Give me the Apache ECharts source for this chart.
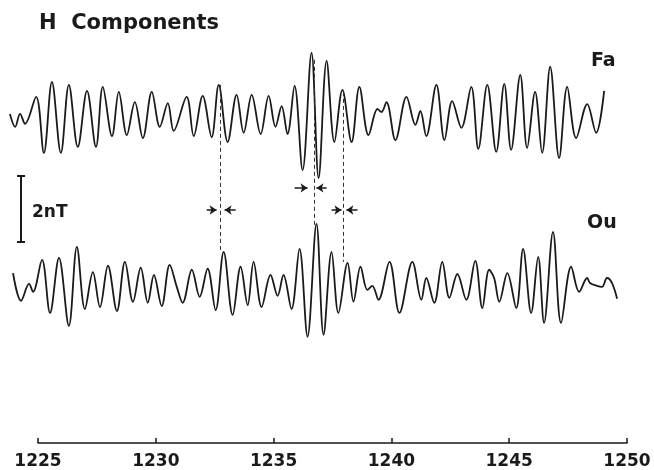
<!DOCTYPE html>
<html>
<head>
<meta charset="utf-8">
<script src="https://cdn.jsdelivr.net/npm/echarts@6/dist/echarts.min.js"></script>
<style>html,body{margin:0;background:#fff}#main{width:654px;height:470px}</style>
</head>
<body>
<div id="main"></div>
<script>
// time axis, minutes past 12h
var ticks = [1225, 1230, 1235, 1240, 1245, 1250]

// Fa station H component, nT around its own baseline
var faTime = [1223.81,1224.03,1224.24,1224.45,1224.92,1225.25,1225.59,1225.97,1226.31,1226.69,
  1227.08,1227.46,1227.75,1228.14,1228.43,1228.77,1229.11,1229.45,1229.83,1230.17,
  1230.51,1230.76,1231.31,1231.61,1231.99,1232.37,1232.67,1233.05,1233.43,1233.73,
  1234.07,1234.45,1234.79,1235.08,1235.34,1235.59,1235.89,1236.23,1236.61,1236.91,
  1237.25,1237.58,1237.92,1238.31,1238.64,1239.03,1239.41,1239.58,1239.79,1240.17,
  1240.64,1241.02,1241.23,1241.48,1241.91,1242.25,1242.58,1242.97,1243.39,1243.69,
  1244.07,1244.45,1244.79,1245.08,1245.47,1245.76,1246.10,1246.40,1246.74,1247.12,
  1247.46,1247.84,1248.31,1248.69,1249.03]
var faH = [0.09,-0.30,0.09,-0.21,0.61,-1.09,1.06,-1.09,0.97,-0.91,
  0.79,-0.91,0.91,-0.58,0.76,-0.55,0.45,-0.64,0.76,-0.30,
  0.42,-0.42,0.61,-0.58,0.64,-0.61,0.97,-0.76,0.67,-0.48,
  0.67,-0.52,0.64,-0.30,0.33,-0.52,0.94,-1.61,1.94,-1.85,
  1.70,-0.76,0.82,-0.76,0.91,-0.55,0.24,0.15,0.45,-0.70,
  0.61,-0.24,0.18,-0.58,0.97,-0.70,0.48,-0.33,0.91,-0.97,
  0.97,-1.06,1.00,-1.00,1.27,-0.94,0.76,-1.09,1.52,-1.24,
  0.91,-0.64,0.39,-0.48,0.79]

// Ou station H component, nT around its own baseline
var ouTime = [1223.94,1224.28,1224.62,1224.79,1225.17,1225.51,1225.89,1226.31,1226.65,1226.99,
  1227.33,1227.63,1227.97,1228.35,1228.69,1229.03,1229.36,1229.66,1229.92,1230.25,
  1230.59,1230.89,1231.14,1231.53,1231.86,1232.20,1232.54,1232.88,1233.26,1233.60,
  1233.90,1234.15,1234.49,1234.87,1235.17,1235.42,1235.76,1236.10,1236.44,1236.82,
  1237.12,1237.46,1237.75,1238.14,1238.39,1238.69,1238.98,1239.19,1239.45,1239.92,
  1240.34,1240.89,1241.27,1241.48,1241.82,1242.16,1242.46,1242.80,1243.18,1243.56,
  1243.86,1244.15,1244.36,1244.58,1244.92,1245.30,1245.59,1245.93,1246.23,1246.48,
  1246.86,1247.20,1247.63,1247.97,1248.31,1248.43,1248.73,1248.94,1249.15,1249.36,
  1249.58]
var ouH = [0.45,-0.39,0.12,-0.12,0.85,-0.76,0.91,-1.15,1.24,-0.64,
  0.48,-0.58,0.67,-0.70,0.79,-0.42,0.61,-0.45,0.39,-0.55,
  0.70,0.03,-0.45,0.55,-0.27,0.58,-0.67,1.09,-0.82,0.64,
  -0.52,0.79,-0.58,0.39,-0.24,0.39,-0.64,1.18,-1.48,1.94,
  -1.42,1.09,-0.76,0.76,-0.42,0.64,-0.06,0.06,-0.36,0.79,
  -0.76,0.79,-0.36,0.30,-0.45,0.79,-0.30,0.42,-0.36,0.82,
  -0.61,0.55,0.30,-0.42,0.45,-0.61,1.18,-0.76,0.94,-1.06,
  1.70,-1.06,0.64,-0.12,0.30,0.15,0.06,0.03,0.30,0.15,
  -0.33]

var OU_SHIFT = -5.18   // Ou trace drawn below Fa

// correlated peaks: [time, top of dash, bottom of dash]
var links = [[1232.72, 0.97, -4.09], [1236.74, 1.73, -3.27], [1237.97, 0.76, -4.39]]
// arrow pairs: [level, left from, left to, right from, right to]
var arrows = [[-2.82, 1232.16, 1232.58, 1233.39, 1232.92],
  [-2.15, 1235.89, 1236.44, 1237.25, 1236.82],
  [-2.82, 1237.46, 1237.88, 1238.56, 1238.09]]
// 2 nT scale bar
var scaleBar = [1224.28, -1.79, -3.79]

var ink = '#1a1a1a'
var font = 'DejaVu Sans'

// layout: labelled axis spans 1225..1250, traces run past both ends
var W = 654, AX_L = 38, AX_R = 27, TOP = 10, BOT = 27
var pxPerMin = (W - AX_L - AX_R) / (ticks[ticks.length-1] - ticks[0])
var fullMin = ticks[0] - AX_L / pxPerMin
var fullMax = ticks[ticks.length-1] + AX_R / pxPerMin

function pairs(t, v, shift){
  return t.map((x, i) => [x, +(v[i] + shift).toFixed(2)])
}

var markData = []
links.forEach((l)=>{
  markData.push([{coord:[l[0], l[1]]}, {coord:[l[0], l[2]]}])
})
var arrowData = []
arrows.forEach((a)=>{
  arrowData.push([{coord:[a[1], a[0]]}, {coord:[a[2], a[0]]}])
  arrowData.push([{coord:[a[3], a[0]]}, {coord:[a[4], a[0]]}])
})

var chart = echarts.init(document.getElementById('main'))
chart.setOption({
  animation:false,
  backgroundColor:'#fff',
  title:[
    {text:'H  Components', left:34, top:8, textStyle:{fontFamily:font, fontWeight:'bold', fontSize:21, color:ink}},
    {text:'Fa', left:586, top:47, textStyle:{fontFamily:font, fontWeight:'bold', fontSize:19, color:ink}},
    {text:'Ou', left:582, top:209, textStyle:{fontFamily:font, fontWeight:'bold', fontSize:19, color:ink}},
    {text:'2nT', left:27, top:199, textStyle:{fontFamily:font, fontWeight:'bold', fontSize:17, color:ink}}
  ],
  grid:[
    {left:0, right:0, top:TOP, bottom:BOT},
    {left:AX_L, right:AX_R, top:TOP, bottom:BOT}
  ],
  xAxis:[{
    type:'value', min:fullMin, max:fullMax, show:false
  },{
    gridIndex:1, type:'value', min:ticks[0], max:ticks[ticks.length-1], interval:5,
    axisLine:{onZero:false, lineStyle:{color:ink, width:1.5}},
    axisTick:{inside:true, length:5, lineStyle:{color:ink, width:1.5}},
    axisLabel:{color:ink, fontFamily:font, fontWeight:'bold', fontSize:17, margin:10,
      formatter:(v)=> ticks.indexOf(v) >= 0 ? String(v) : ''},
    splitLine:{show:false}
  }],
  yAxis:[
    {type:'value', min:-9.88, max:3.24, show:false},
    {gridIndex:1, type:'value', min:-9.88, max:3.24, show:false}
  ],
  series:[{
    name:'Fa', type:'line', showSymbol:false, smooth:0.35,
    lineStyle:{color:ink, width:1.8},
    data:pairs(faTime, faH, 0)
  },{
    name:'Ou', type:'line', showSymbol:false, smooth:0.35,
    lineStyle:{color:ink, width:1.8},
    data:pairs(ouTime, ouH, OU_SHIFT),
    markLine:{
      silent:true, animation:false, label:{show:false}, symbol:'none',
      lineStyle:{color:'#333', type:[4,3], width:1},
      data:markData
    }
  },{
    name:'arrows', type:'line', data:[],
    markLine:{
      silent:true, animation:false, label:{show:false},
      symbol:['none','arrow'], symbolSize:7,
      lineStyle:{color:ink, type:'solid', width:1.5},
      data:arrowData
    }
  },{
    name:'scale', type:'line', data:[],
    markLine:{
      silent:true, animation:false, label:{show:false},
      symbol:['rect','rect'], symbolSize:[8,2],
      lineStyle:{color:ink, type:'solid', width:2},
      data:[[{coord:[scaleBar[0], scaleBar[1]]}, {coord:[scaleBar[0], scaleBar[2]]}]]
    }
  }]
})
</script>
</body>
</html>
